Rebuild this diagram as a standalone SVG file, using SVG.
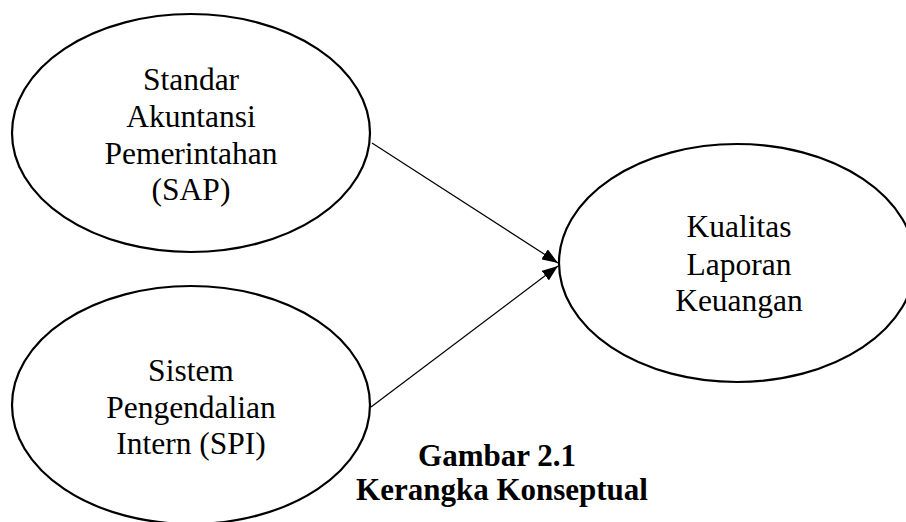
<svg xmlns="http://www.w3.org/2000/svg" width="906" height="522" viewBox="0 0 906 522">
<style>
.node{fill:#fff;stroke:#000;stroke-width:2.2}
.t{font-family:"Liberation Serif","Times New Roman",serif;font-size:31.5px;fill:#000;text-anchor:middle}
.cap{font-family:"Liberation Serif","Times New Roman",serif;font-size:31px;font-weight:bold;fill:#000;text-anchor:middle}
.edge{stroke:#000;stroke-width:1.2;fill:none}
</style>
<defs>
<marker id="arr" markerUnits="userSpaceOnUse" markerWidth="16" markerHeight="12" refX="16" refY="6" orient="auto">
<path d="M0,0 L16,6 L0,12 Z" fill="#000"/>
</marker>
</defs>
<rect width="906" height="522" fill="#fff"/>
<g id="node-sap">
<ellipse class="node" cx="191" cy="133" rx="179" ry="119"/>
<text class="t" x="191" y="90">Standar</text>
<text class="t" x="191" y="127">Akuntansi</text>
<text class="t" x="191" y="164">Pemerintahan</text>
<text class="t" x="191" y="200">(SAP)</text>
</g>
<g id="node-spi">
<ellipse class="node" cx="191" cy="405" rx="179" ry="119"/>
<text class="t" x="191" y="381">Sistem</text>
<text class="t" x="191" y="418">Pengendalian</text>
<text class="t" x="191" y="454">Intern (SPI)</text>
</g>
<g id="node-klk">
<ellipse class="node" cx="737" cy="263" rx="178" ry="119"/>
<text class="t" x="739" y="237">Kualitas</text>
<text class="t" x="739" y="275">Laporan</text>
<text class="t" x="739" y="311">Keuangan</text>
</g>
<g id="connectors">
<line class="edge" x1="372" y1="143" x2="558" y2="263" marker-end="url(#arr)"/>
<line class="edge" x1="371" y1="407" x2="558" y2="266" marker-end="url(#arr)"/>
</g>
<g id="caption">
<text class="cap" x="497" y="466">Gambar 2.1</text>
<text class="cap" x="502" y="500">Kerangka Konseptual</text>
</g>
</svg>
